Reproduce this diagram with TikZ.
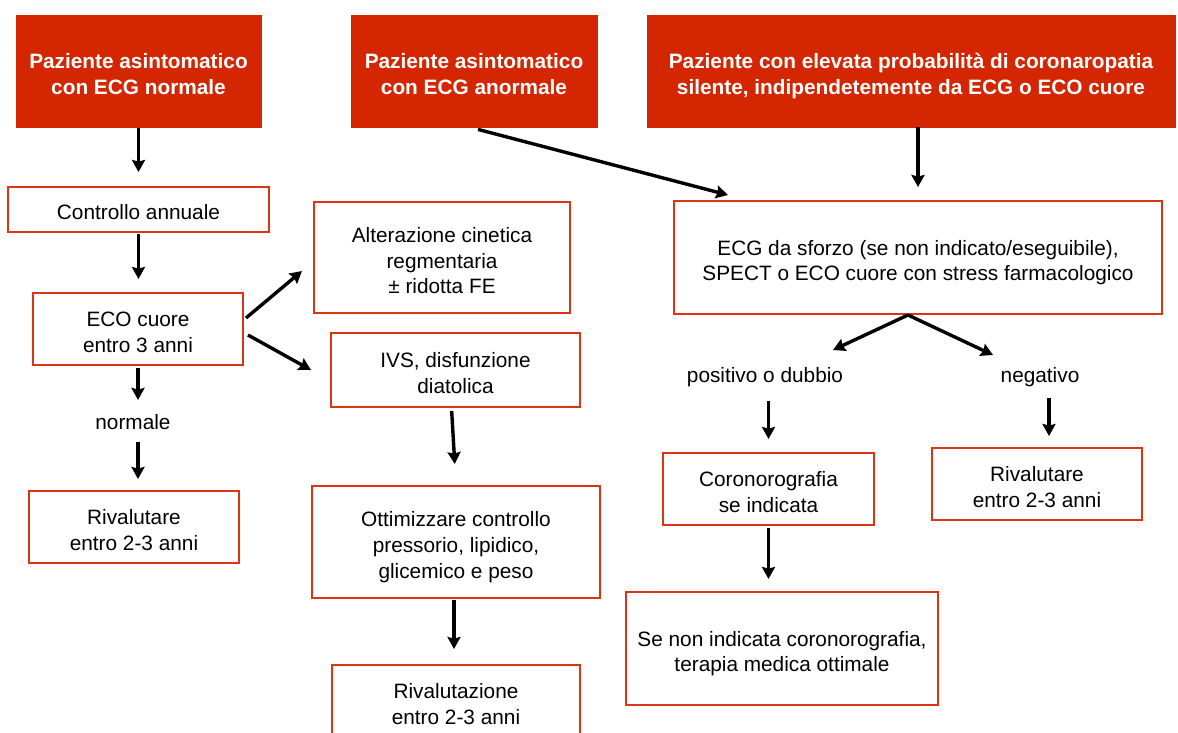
\documentclass[tikz,border=0pt]{standalone}
\usepackage{fontspec}
\setmainfont{Liberation Sans}
\usetikzlibrary{arrows.meta}
\definecolor{hdred}{RGB}{212,38,0}
\definecolor{bdred}{RGB}{222,52,22}
\newcommand\sT{\rule{0pt}{13pt}}
\newcommand\sB{\rule[-2.5pt]{0pt}{2.5pt}}
\begin{document}
\begin{tikzpicture}[x=0.5pt,y=-0.5pt,
  every node/.style={font=\fontsize{10.4}{12.9}\selectfont, align=center},
  hdr/.style={fill=hdred, draw=hdred, text=white, font=\fontsize{10.4}{12.9}\selectfont\bfseries, inner sep=0pt},
  box/.style={draw=bdred, line width=1pt, fill=white, inner sep=0pt},
  lbl/.style={inner sep=0pt},
  arr/.style={line width=1.7pt, -{Stealth[length=6pt,width=6.5pt,inset=0.8pt]}}]
\clip (0,0) rectangle (1178,733);
\useasboundingbox (0,0) rectangle (1178,733);
\fill[white] (0,0) rectangle (1178,733);

% headers
\node[hdr, minimum width=122.5pt, minimum height=56pt] (h1) at (138.5,71) {\sT Paziente asintomatico\\con ECG normale\sB};
\node[hdr, minimum width=123pt, minimum height=56pt] (h2) at (474,71) {\sT Paziente asintomatico\\con ECG anormale\sB};
\node[hdr, minimum width=264pt, minimum height=56pt] (h3) at (911,71) {\sT Paziente con elevata probabilità di coronaropatia\\silente, indipendetemente da ECG o ECO cuore\sB};

% left column
\node[box, minimum width=130.5pt, minimum height=22.5pt] (ctrl) at (138.5,209.5) {\sT Controllo annuale\sB};
\node[box, minimum width=105pt, minimum height=36pt] (eco) at (138,329) {\sT ECO cuore\\entro 3 anni\sB};
\node[lbl] (norm) at (133,422) {normale};
\node[box, minimum width=105pt, minimum height=36pt] (rivl) at (134,527) {\sT Rivalutare\\entro 2-3 anni\sB};

% middle column
\node[box, minimum width=128pt, minimum height=55.5pt] (alt) at (442,257.5) {\sT Alterazione cinetica\\regmentaria\\± ridotta FE\sB};
\node[box, minimum width=124.5pt, minimum height=37pt] (ivs) at (455.5,370) {\sT IVS, disfunzione\\diatolica\sB};
\node[box, minimum width=144pt, minimum height=56pt] (ott) at (456,542) {\sT Ottimizzare controllo\\pressorio, lipidico,\\glicemico e peso\sB};
\node[box, minimum width=124pt, minimum height=36pt] (rivz) at (456,701) {\sT Rivalutazione\\entro 2-3 anni\sB};

% right column
\node[box, minimum width=244pt, minimum height=56.5pt] (ecg) at (918,257.5) {\sT ECG da sforzo (se non indicato/eseguibile),\\SPECT o ECO cuore con stress farmacologico\sB};
\node[lbl] (pos) at (765,377) {positivo o dubbio};
\node[lbl] (neg) at (1040,377) {negativo};
\node[box, minimum width=105.5pt, minimum height=36pt] (coro) at (768.5,489) {\sT Coronorografia\\se indicata\sB};
\node[box, minimum width=105pt, minimum height=36pt] (rivr) at (1037,484) {\sT Rivalutare\\entro 2-3 anni\sB};
\node[box, minimum width=156pt, minimum height=56.5pt] (senon) at (782,648.5) {\sT Se non indicata coronorografia,\\terapia medica ottimale\sB};

% arrows left
\draw[arr, shorten <=0.5pt, shorten >=7pt] (h1.south) -- (h1.south |- ctrl.north);
\draw[arr, shorten <=0.5pt, shorten >=6.5pt] (ctrl.south) -- (ctrl.south |- eco.north);
\draw[arr, shorten <=1pt, shorten >=7pt] (eco.south) -- (eco.south |- norm.north);
\draw[arr, shorten <=6pt, shorten >=5.5pt] (eco.south |- norm.south) -- (eco.south |- rivl.north);
\draw[arr] ([shift={(2,-11)}]eco.east) -- ([shift={(-11,-43)}]alt.south west);
\draw[arr] ([shift={(4,6)}]eco.east) -- ([shift={(-19,0)}]ivs.west);

% arrows middle
\draw[arr, shorten <=1.5pt, shorten >=10.5pt] ([xshift=-2]ivs.south) -- (ott.north);
\draw[arr, shorten <=0.5pt, shorten >=7.5pt] ([xshift=-1]ott.south) -- ([xshift=-1]rivz.north);
\draw[arr] ([shift={(4,2)}]h2.south) -- ([shift={(-190,-5)}]ecg.north);

% arrows right
\draw[arr, shorten >=6.5pt] (ecg.north |- h3.south) -- (ecg.north);
\draw[arr] ([xshift=-5]ecg.south) -- ([shift={(68,-27)}]pos.center);
\draw[arr] ([xshift=-5]ecg.south) -- ([shift={(-47,-22)}]neg.center);
\draw[arr, shorten <=7pt, shorten >=6.5pt] (coro.north |- pos.south) -- (coro.north);
\draw[arr, shorten <=5.5pt, shorten >=5.5pt] ([xshift=6]rivr.north |- neg.south) -- ([xshift=6]rivr.north);
\draw[arr, shorten <=1pt, shorten >=6pt] (coro.south) -- (coro.south |- senon.north);
\end{tikzpicture}
\end{document}
